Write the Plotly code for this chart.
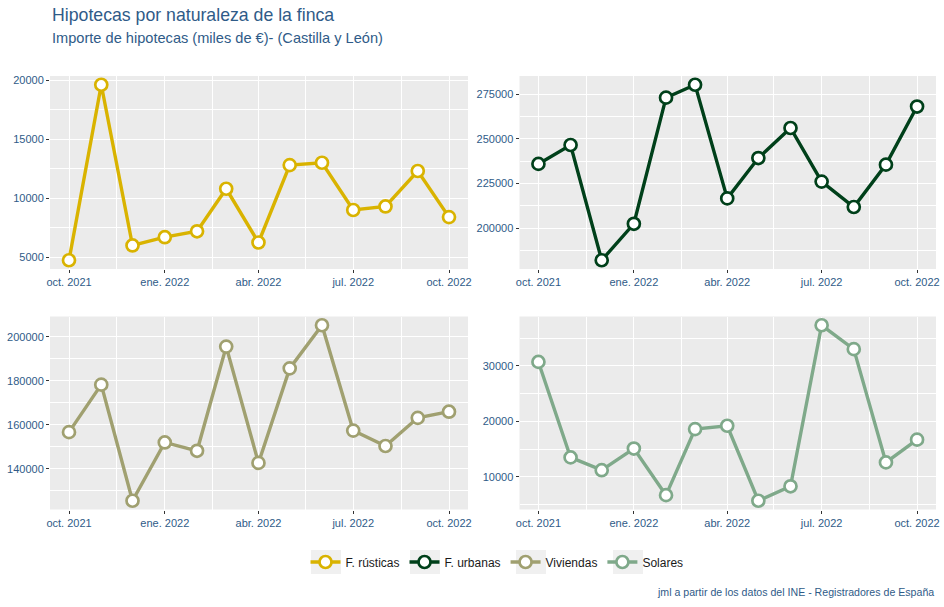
import plotly.graph_objects as go
from plotly.subplots import make_subplots

months = ["2021-10-01", "2021-11-01", "2021-12-01", "2022-01-01", "2022-02-01", "2022-03-01",
          "2022-04-01", "2022-05-01", "2022-06-01", "2022-07-01", "2022-08-01", "2022-09-01",
          "2022-10-01"]

rusticas = [4750, 19600, 6000, 6700, 7200, 10800, 6250, 12800, 13000, 9000, 9300, 12300, 8400]
urbanas = [235900, 246500, 182000, 202400, 273000, 280200, 216600, 239200, 256000, 226000,
           211800, 235500, 268000]
viviendas = [156700, 178300, 125500, 152000, 148200, 195600, 142700, 185700, 205300, 157400,
             150400, 163200, 166000]
solares = [30700, 13500, 11200, 15100, 6700, 18600, 19200, 5700, 8300, 37300, 33000, 12600, 16700]

series_names = ["F. rústicas", "F. urbanas", "Viviendas", "Solares"]
series_values = [rusticas, urbanas, viviendas, solares]
series_colors = ["#D9B300", "#00401A", "#A0A070", "#7FA98A"]

x_tick_vals = ["2021-10-01", "2022-01-01", "2022-04-01", "2022-07-01", "2022-10-01"]
x_tick_text = ["oct. 2021", "ene. 2022", "abr. 2022", "jul. 2022", "oct. 2022"]
y_dticks = [5000, 25000, 20000, 10000]

title = "Hipotecas por naturaleza de la finca"
subtitle = "Importe de hipotecas (miles de €)- (Castilla y León)"
caption = "jml a partir de los datos del INE - Registradores de España"

W, H = 944, 607
blue = "#2F5B88"

fig = make_subplots(rows=2, cols=2)

xdom = [[50 / W, 468 / W], [519.5 / W, 936 / W]]
ydom = [[1 - 269 / H, 1 - 76 / H], [1 - 509.5 / H, 1 - 316.5 / H]]

x_range = ["2021-09-12 18:00", "2022-10-19 06:00"]

for i, (name, vals, col) in enumerate(zip(series_names, series_values, series_colors)):
    r, c = i // 2 + 1, i % 2 + 1
    fig.add_trace(go.Scatter(
        x=months, y=vals, name=name, mode="lines+markers",
        line=dict(color=col, width=3.4),
        marker=dict(size=12, color="white", line=dict(color=col, width=2.7)),
    ), row=r, col=c)
    lo, hi = min(vals), max(vals)
    pad = 0.05 * (hi - lo)
    axn = "" if i == 0 else str(i + 1)
    fig.layout["xaxis" + axn].update(
        domain=xdom[c - 1], range=x_range, type="date", automargin=False,
        tickvals=x_tick_vals, ticktext=x_tick_text,
        showgrid=True, gridcolor="white", gridwidth=1.1,
        minor=dict(tick0="2021-11-16", dtick="M3", showgrid=True, gridcolor="white",
                   gridwidth=0.5, ticks=""),
        ticks="outside", ticklen=3, tickcolor="#333333", tickwidth=1,
        tickfont=dict(family="Liberation Sans, Arial", size=11, color=blue),
        zeroline=False, showline=False,
    )
    fig.layout["yaxis" + axn].update(
        domain=ydom[r - 1], range=[lo - pad, hi + pad], automargin=False,
        dtick=y_dticks[i], tick0=0, tickformat="d",
        showgrid=True, gridcolor="white", gridwidth=1.1,
        minor=dict(dtick=y_dticks[i] / 2, tick0=0, showgrid=True, gridcolor="white",
                   gridwidth=0.5, ticks=""),
        ticks="outside", ticklen=3, tickcolor="#333333", tickwidth=1,
        tickfont=dict(family="Liberation Sans, Arial", size=11, color=blue),
        zeroline=False, showline=False,
    )

# light grey backgrounds behind the legend keys
legend_key_centers = [326, 425, 531, 628]
shapes = []
for cx in legend_key_centers:
    shapes.append(dict(type="rect", xref="paper", yref="paper", layer="below",
                       x0=(cx - 15) / W, x1=(cx + 15) / W,
                       y0=1 - 574 / H, y1=1 - 550 / H,
                       fillcolor="#F0F0F0", line=dict(width=0)))

fig.update_layout(
    width=W, height=H,
    margin=dict(l=0, r=0, t=0, b=0),
    paper_bgcolor="white",
    plot_bgcolor="#EBEBEB",
    font=dict(family="Liberation Sans, Arial", color="#1a1a1a"),
    showlegend=True,
    legend=dict(orientation="h", x=497 / W, xanchor="center", y=1 - 562 / H, yanchor="middle",
                font=dict(size=12, color="#1a1a1a"), itemwidth=30, bgcolor="rgba(0,0,0,0)"),
    shapes=shapes,
    annotations=[
        dict(text=title, x=50 / W, y=1 - 15 / H, xref="paper", yref="paper",
             xanchor="left", yanchor="middle", showarrow=False,
             font=dict(size=17.7, color=blue)),
        dict(text=subtitle, x=50 / W, y=1 - 38 / H, xref="paper", yref="paper",
             xanchor="left", yanchor="middle", showarrow=False,
             font=dict(size=14.6, color=blue)),
        dict(text=caption, x=936 / W, y=1 - 592 / H, xref="paper", yref="paper",
             xanchor="right", yanchor="middle", showarrow=False,
             font=dict(size=10.6, color=blue)),
    ],
)

fig.write_html("out.html", post_script="document.body.style.margin='0px';",
               config={"displayModeBar": False})
